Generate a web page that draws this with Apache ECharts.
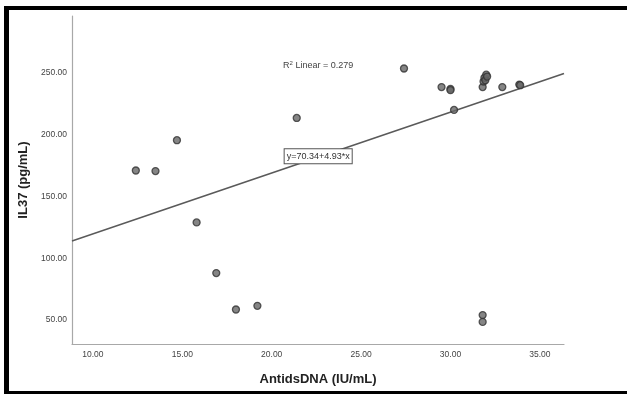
<!DOCTYPE html>
<html>
<head>
<meta charset="utf-8">
<script src="https://cdn.jsdelivr.net/npm/echarts@6/dist/echarts.min.js"></script>
<style>
  html, body { margin: 0; padding: 0; background: #fff; }
  #chart { width: 627px; height: 394px; }
</style>
</head>
<body>
<div id="chart"></div>
<script>
// Anti-dsDNA vs IL-37 measurements
const antiDsDNA = [12.4, 13.5, 14.7, 15.8, 16.9, 18.0, 19.2, 21.4, 27.4, 29.5, 30.0, 30.0, 30.2,
                   31.8, 31.85, 31.9, 31.95, 32.0, 32.05, 32.9, 33.85, 33.9, 31.8, 31.8];
const il37 = [171, 170.5, 195.5, 129, 88, 58.5, 61.5, 213.5, 253.5, 238.5, 237, 236, 220,
              238.5, 243, 246, 244, 248.5, 247, 238.5, 240.5, 240, 54, 48.5];

// Fitted linear model
const intercept = 70.34;
const slope = 4.93;
const rSquared = 0.279;

const xTicks = [10, 15, 20, 25, 30, 35];
const yTicks = [50, 100, 150, 200, 250];
const xRange = [8.83, 36.35];
const yRange = [30.6, 296];

const fit = x => intercept + slope * x;
const fitLine = xRange.map(x => [x, fit(x)]);
const eqAt = 22.6;
const r2At = [22.6, 255.7];

const chart = echarts.init(document.getElementById('chart'));
const labelFont = '"Liberation Sans Narrow", "Liberation Sans", Arial, sans-serif';

chart.setOption({
  backgroundColor: '#fff',
  animation: false,
  grid: { left: 72, right: 63, top: 16, bottom: 50 },
  xAxis: {
    type: 'value', min: xRange[0], max: xRange[1],
    name: 'AntidsDNA (IU/mL)', nameLocation: 'middle', nameGap: 29,
    nameTextStyle: { fontFamily: 'Liberation Sans, Arial, sans-serif', fontSize: 13, fontWeight: 'bold', color: '#222' },
    axisLine: { show: true, lineStyle: { color: '#a8a8a8', width: 1.2 } },
    axisTick: { show: false },
    splitLine: { show: false },
    axisLabel: {
      customValues: xTicks, formatter: v => v.toFixed(2),
      fontFamily: labelFont, fontSize: 8.5, color: '#444', margin: 6
    }
  },
  yAxis: {
    type: 'value', min: yRange[0], max: yRange[1],
    name: 'IL37 (pg/mL)', nameLocation: 'middle', nameGap: 38,
    nameTextStyle: { fontFamily: 'Liberation Sans, Arial, sans-serif', fontSize: 13, fontWeight: 'bold', color: '#222' },
    axisLine: { show: true, lineStyle: { color: '#a8a8a8', width: 1.2 } },
    axisTick: { show: false },
    splitLine: { show: false },
    axisLabel: {
      customValues: yTicks, formatter: v => v.toFixed(2),
      fontFamily: labelFont, fontSize: 8.5, color: '#444', margin: 5
    }
  },
  series: [
    {
      type: 'line',
      data: fitLine,
      showSymbol: false,
      lineStyle: { color: '#5a5a5a', width: 1.6 },
      z: 2,
      markPoint: {
        symbol: 'rect', symbolSize: 1,
        itemStyle: { color: 'rgba(0,0,0,0)' },
        data: [
          {
            coord: [eqAt, fit(eqAt)],
            label: {
              show: true, position: 'inside', offset: [0, -1],
              formatter: 'y=' + intercept.toFixed(2) + '+' + slope.toFixed(2) + '*x',
              fontFamily: labelFont, fontSize: 9, color: '#333',
              backgroundColor: '#fff', borderColor: '#555', borderWidth: 1,
              padding: [3, 2, 2, 2]
            }
          },
          {
            coord: r2At,
            label: {
              show: true, position: 'inside',
              formatter: '{b|R}{s|2}{b| Linear = ' + rSquared.toFixed(3) + '}',
              rich: {
                b: { fontFamily: labelFont, fontSize: 9, color: '#444' },
                s: { fontFamily: labelFont, fontSize: 6, color: '#444', verticalAlign: 'top', padding: [0, 0, 5, 0] }
              }
            }
          }
        ]
      }
    },
    {
      type: 'scatter',
      data: antiDsDNA.map((x, i) => [x, il37[i]]),
      symbol: 'circle', symbolSize: 7,
      itemStyle: { color: '#666', borderColor: '#333', borderWidth: 1.3 },
      z: 3
    }
  ],
  graphic: [
    { type: 'rect', shape: { x: 4, y: 6, width: 5, height: 388 }, style: { fill: '#000' } },
    { type: 'rect', shape: { x: 4, y: 6, width: 623, height: 4 }, style: { fill: '#000' } },
    { type: 'rect', shape: { x: 4, y: 391, width: 623, height: 3 }, style: { fill: '#000' } }
  ]
});
</script>
</body>
</html>
